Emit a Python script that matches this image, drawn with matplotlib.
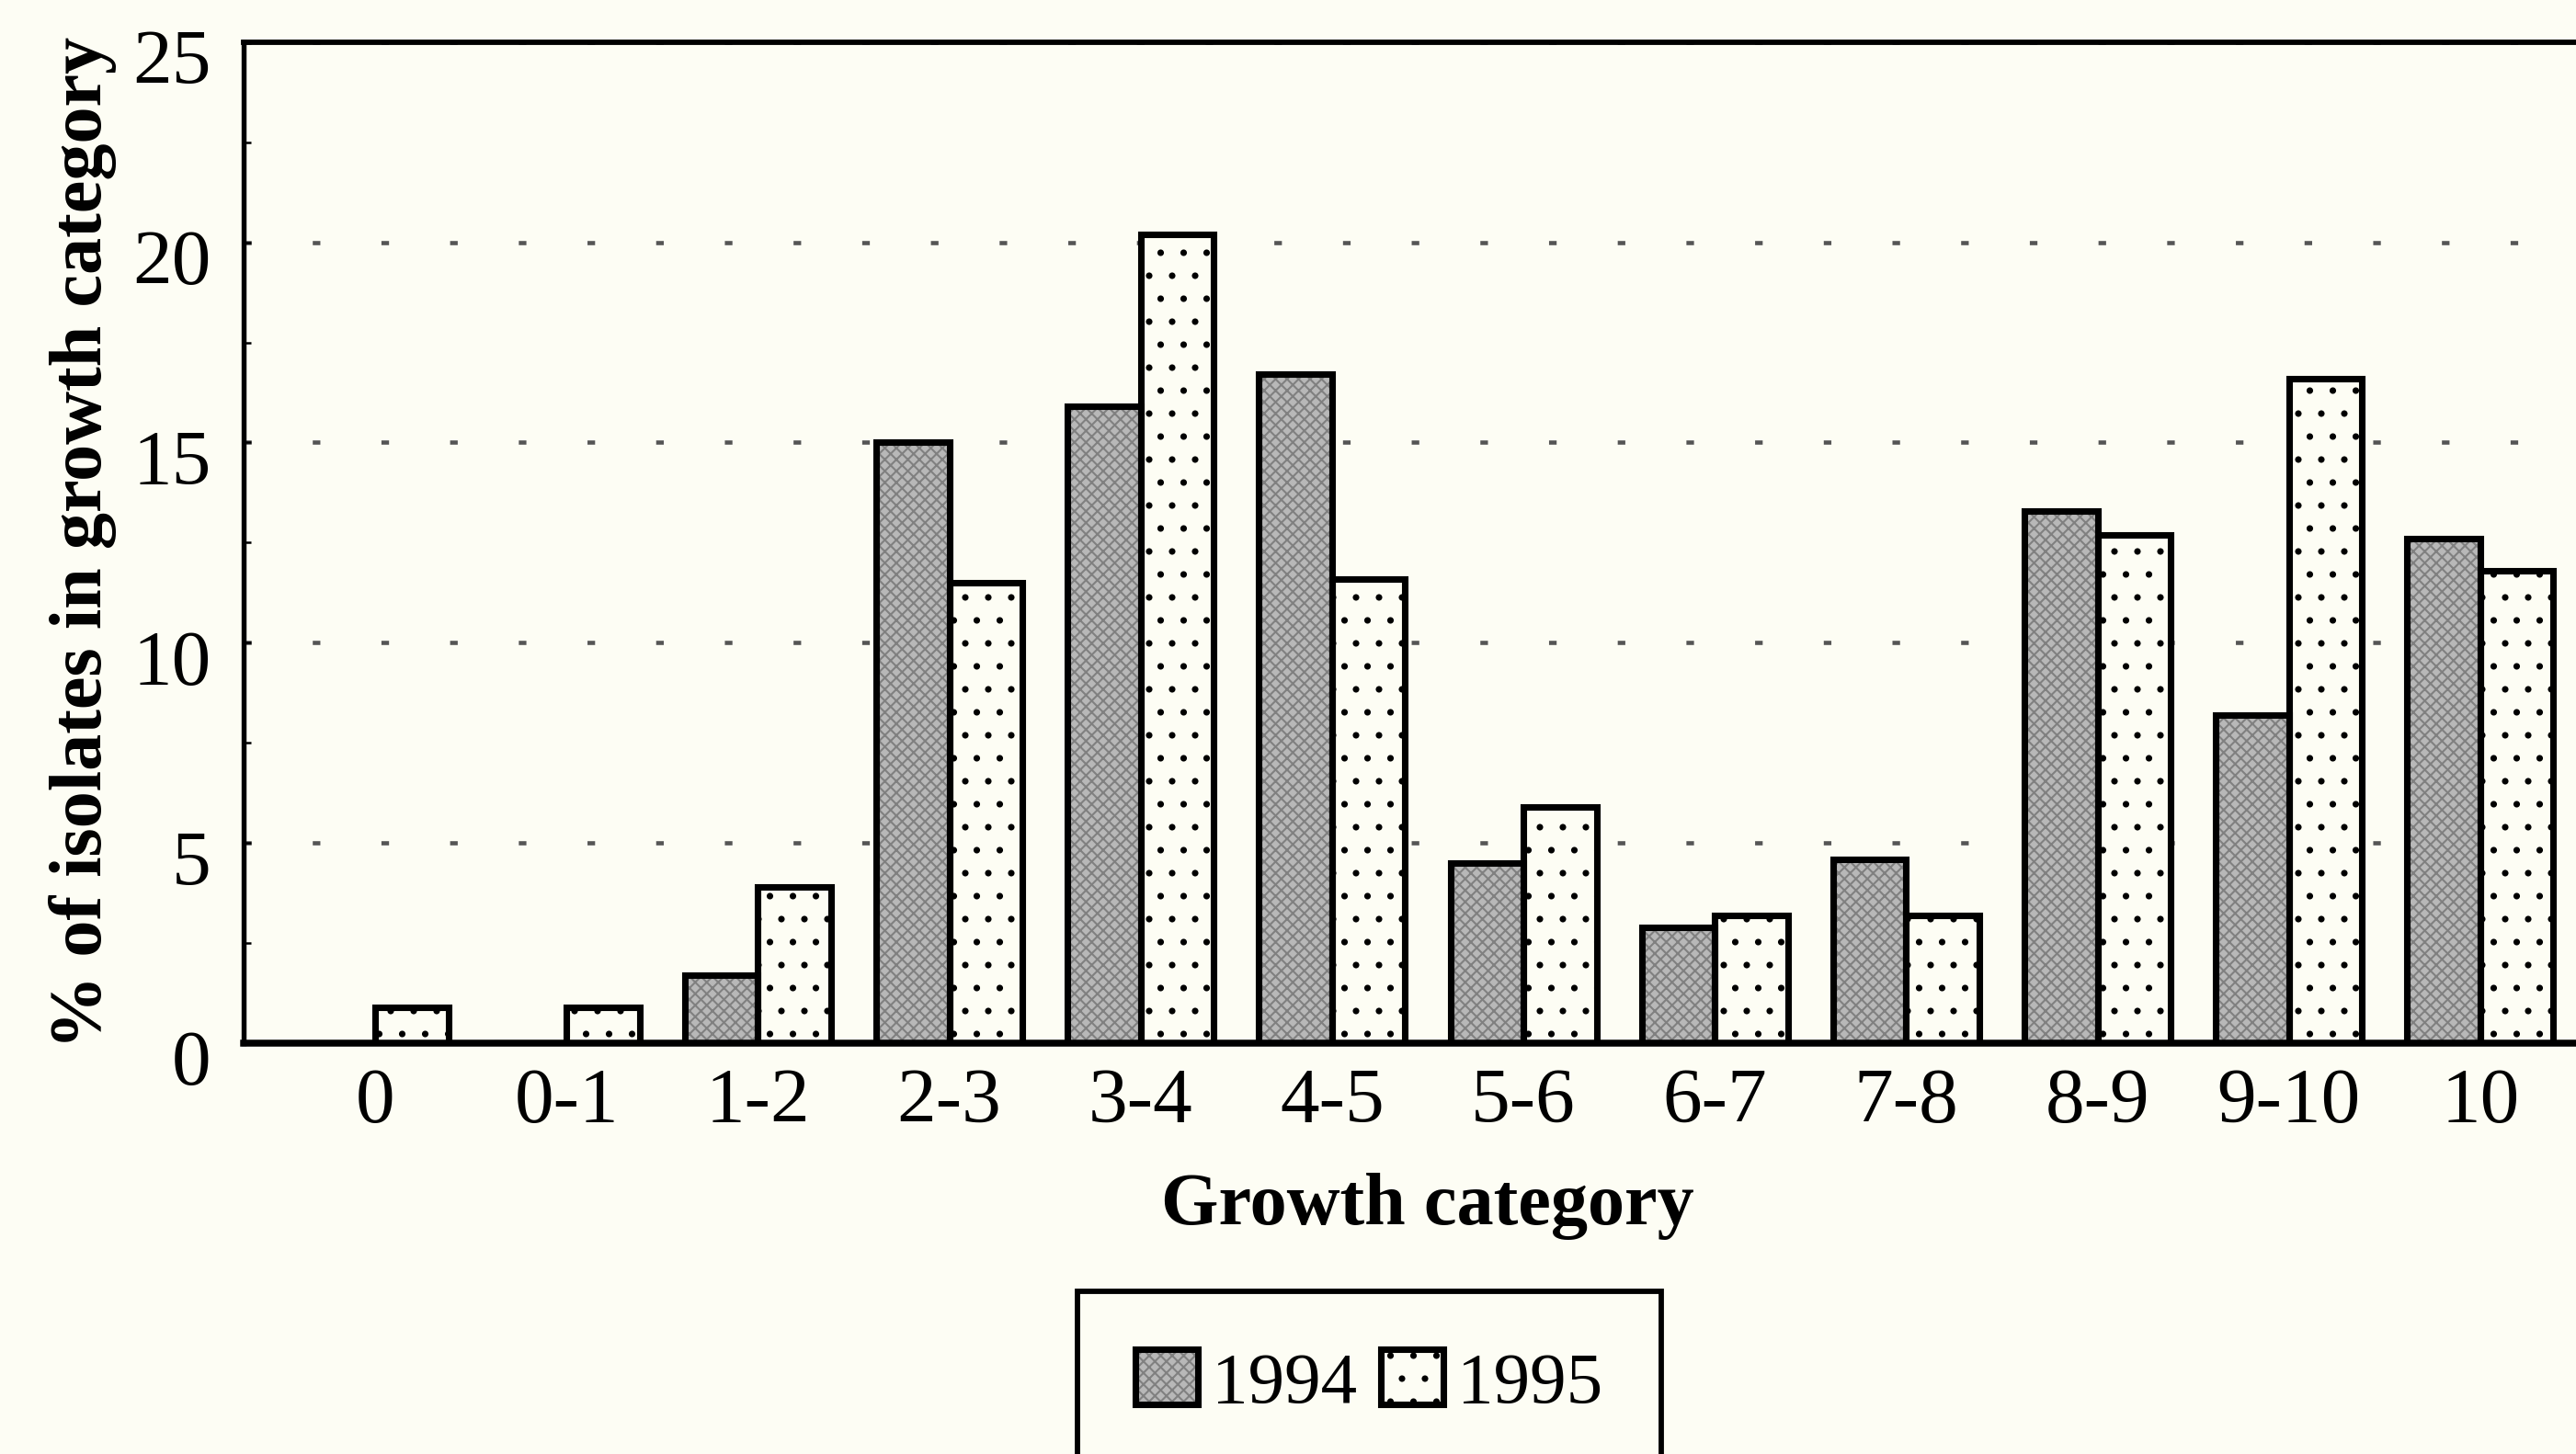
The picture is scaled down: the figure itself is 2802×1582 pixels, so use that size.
import matplotlib
matplotlib.use("Agg")
import matplotlib.pyplot as plt
import matplotlib.transforms as mtransforms
from matplotlib.patches import Patch
from matplotlib.ticker import MultipleLocator
import numpy as np

categories = ["0", "0-1", "1-2", "2-3", "3-4", "4-5", "5-6", "6-7", "7-8", "8-9", "9-10", "10"]
values_1994 = [0, 0, 1.7, 15.0, 15.9, 16.7, 4.5, 2.9, 4.6, 13.3, 8.2, 12.6]
values_1995 = [0.9, 0.9, 3.9, 11.5, 20.2, 11.6, 5.9, 3.2, 3.2, 12.7, 16.6, 11.8]
series_labels = ["1994", "1995"]
yticks = [0, 5, 10, 15, 20, 25]

BG = "#fdfdf4"
GREY = "#b8b8b8"
GREY_HATCH = "#808080"
DPI = 150
plt.rcParams["font.family"] = ["Liberation Serif", "DejaVu Serif"]
plt.rcParams["hatch.linewidth"] = 1.0

fig = plt.figure(figsize=(2802 / DPI, 1582 / DPI), dpi=DPI, facecolor=BG)
ax = fig.add_axes([0.0946, 0.2826, 0.9193, 0.6884], facecolor=BG)

x = np.arange(len(categories))
w = 0.382
EDGE_LW = 3.4

# filled / hatched layers
ax.bar(x - w / 2, values_1994, w, color=GREY, edgecolor=GREY_HATCH, linewidth=0, hatch="xxxx", zorder=2)
ax.bar(x + w / 2, values_1995, w, color=BG, edgecolor="black", linewidth=0, hatch=".", zorder=2)
# outlines
ax.bar(x - w / 2, values_1994, w, fill=False, edgecolor="black", linewidth=EDGE_LW, zorder=3)
ax.bar(x + w / 2, values_1995, w, fill=False, edgecolor="black", linewidth=EDGE_LW, zorder=3)

ax.set_xlim(-0.687, len(categories) - 1 + 0.687)
ax.set_ylim(0, 25)
ax.set_yticks(yticks)
ax.yaxis.set_minor_locator(MultipleLocator(2.5))
ax.set_xticks(x)
ax.set_xticklabels(categories)

ax.tick_params(axis="y", which="both", direction="in", length=4, width=1.2, labelsize=41, pad=17)
ax.tick_params(axis="x", length=0, labelsize=41, pad=13)

# y tick labels sit slightly low in the original scan
offset = mtransforms.ScaledTranslation(0, -16 / DPI, fig.dpi_scale_trans)
for lab in ax.get_yticklabels():
    lab.set_transform(lab.get_transform() + offset)

ax.set_axisbelow(True)
ax.yaxis.grid(True, which="major", color="#555555", linewidth=2.2, linestyle=(0, (1.8, 14.5)))
ax.xaxis.grid(False)

for side, lw in [("left", 2.6), ("bottom", 3.6), ("top", 2.8), ("right", 2.8)]:
    ax.spines[side].set_linewidth(lw)
    ax.spines[side].set_color("black")

ax.set_ylabel("% of isolates in growth category", fontsize=38.5, fontweight="bold", va="center")
ax.yaxis.set_label_coords(-0.068, 0.5)
ax.set_xlabel("Growth category", fontsize=38.5, fontweight="bold", va="center")
ax.xaxis.set_label_coords(0.5, -0.1635)

h1994 = (Patch(facecolor=GREY, edgecolor=GREY_HATCH, linewidth=0, hatch="xxxx"),
         Patch(fill=False, edgecolor="black", linewidth=EDGE_LW))
h1995 = (Patch(facecolor=BG, edgecolor="black", linewidth=0, hatch="."),
         Patch(fill=False, edgecolor="black", linewidth=EDGE_LW))
leg = fig.legend([h1994, h1995], series_labels, loc="upper left",
                 bbox_to_anchor=(1172 / 2802, 1 - 1405 / 1582), bbox_transform=fig.transFigure,
                 borderaxespad=0, ncol=2, fontsize=38, handlelength=0.86, handleheight=0.78,
                 handletextpad=0.19, columnspacing=0.32, borderpad=0.8,
                 fancybox=False, framealpha=1, facecolor=BG, edgecolor="black")
leg.get_frame().set_linewidth(2.8)

fig.savefig("out.png", dpi=DPI, facecolor=BG)
